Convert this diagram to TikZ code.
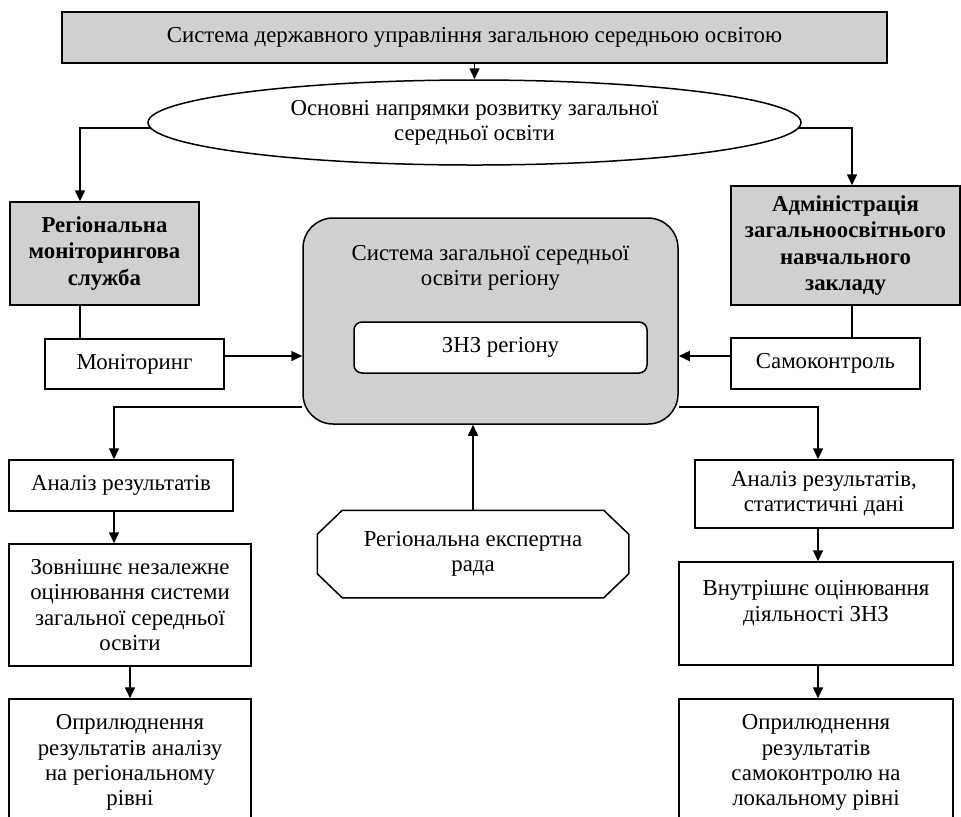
\documentclass[tikz,border=0pt]{standalone}
\usepackage{fontspec}
\setmainfont{Liberation Serif}
\usetikzlibrary{arrows.meta, calc, shapes.geometric}
\definecolor{boxgray}{RGB}{208,208,208}

\begin{document}
\begin{tikzpicture}[
      x=0.5pt, y=-0.5pt, % pixel grid, y downwards
      >={Triangle[length=5.5pt,width=5pt]},
      line width=0.75pt,
      font=\fontsize{11.4pt}{12.6pt}\selectfont,
      box/.style={draw, rectangle, align=center, inner sep=1pt},
      graybox/.style={box, fill=boxgray},
      boldbox/.style={graybox, font=\fontsize{11.4pt}{13.3pt}\selectfont\bfseries},
      oval/.style={draw, ellipse, align=center, inner sep=0pt},
      link/.style={->},
    ]
    \useasboundingbox (0,0) rectangle (961,816);

    % ---- top -------------------------------------------------------------
    \node[graybox, minimum width=412.5pt, minimum height=25.5pt] (gov) at (474.5,37.5)
      {Система державного управління загальною середньою освітою};
    \node[oval, minimum width=326.5pt, minimum height=42.5pt] (dirs) at (474.5,122.5)
      {Основні напрямки розвитку загальної\\середньої освіти};

    % ---- left and right heads ---------------------------------------------
    \node[boldbox, minimum width=94.5pt, minimum height=51.5pt] (monserv) at (104.5,253.5)
      {Регіональна\\моніторингова\\служба};
    \node[boldbox, minimum width=114.5pt, minimum height=59.5pt] (admin) at (845.5,245.5)
      {Адміністрація\\загальноосвітнього\\навчального\\закладу};
    \node[box, minimum width=89.5pt, minimum height=25pt] (monit) at (134.5,364) {Моніторинг};
    \node[box, minimum width=94.5pt, minimum height=25.5pt] (selfc) at (825.5,363.5) {Самоконтроль};

    % ---- centre ------------------------------------------------------------
    \node[graybox, rounded corners=15pt, minimum width=187.5pt, minimum height=103pt] (regsys) at (490.5,321) {};
    \node[align=center] (regtitle) at (490.5,268) {Система загальної середньої\\освіти регіону};
    \node[box, fill=white, rounded corners=4pt, minimum width=146.5pt, minimum height=25.5pt] (znz) at (500.5,347.5) {ЗНЗ регіону};

    \node[align=center, minimum width=155pt, minimum height=43pt] (rada) at (473,554)
      {Регіональна експертна\\рада};
    \draw ([xshift=12.5pt]rada.north west) -- ([xshift=-12.5pt]rada.north east)
      -- ([yshift=-12pt]rada.north east) -- ([yshift=12pt]rada.south east)
      -- ([xshift=-12.5pt]rada.south east) -- ([xshift=12.5pt]rada.south west)
      -- ([yshift=12pt]rada.south west) -- ([yshift=-12pt]rada.north west) -- cycle;

    % ---- left column -------------------------------------------------------
    \node[box, minimum width=112pt, minimum height=25.5pt] (anl) at (121,485.5) {Аналіз результатів};
    \node[box, minimum width=121pt, minimum height=61pt] (ext) at (130,605)
      {Зовнішнє незалежне\\оцінювання системи\\загальної середньої\\освіти};
    \node[box, minimum width=121pt, minimum height=63.5pt] (publ) at (130,762.5)
      {Оприлюднення\\результатів аналізу\\на регіональному\\рівні};

    % ---- right column ------------------------------------------------------
    \node[box, minimum width=129pt, minimum height=34pt] (anr) at (824,494)
      {Аналіз результатів,\\статистичні дані};
    \node[box, minimum width=137pt, minimum height=51.5pt] (intr) at (816,613.5)
      {Внутрішнє оцінювання\\діяльності ЗНЗ\\~};
    \node[box, minimum width=137pt, minimum height=63.5pt] (pubr) at (816,762.5)
      {Оприлюднення\\результатів\\самоконтролю на\\локальному рівні};

    % ---- links -------------------------------------------------------------
    \draw[link] (gov) -- (dirs);
    \draw[link] (dirs.181.7) -| ([xshift=-12.25pt]monserv.north);
    \draw[link] (dirs.-1.7) -| ([xshift=3.25pt]admin.north);
    \draw ([xshift=-12.25pt]monserv.south) -- ([xshift=-12.25pt]monserv.south |- monit.north);
    \draw ([xshift=3.25pt]admin.south) -- ([xshift=3.25pt]admin.south |- selfc.north);
    \draw[link] ([yshift=4pt]monit.east) -- ([yshift=4pt]monit.east -| regsys.west);
    \draw[link] ([yshift=3.75pt]selfc.west) -- ([yshift=3.75pt]selfc.west -| regsys.east);
    \draw[link] (rada.north) -- (rada.north |- regsys.south);
    \draw[link] ([yshift=-43pt]regsys.west) -| ([xshift=-3.5pt]anl.north);
    \draw[link] ([yshift=-43pt]regsys.east) -| ([xshift=-3pt]anr.north);
    \draw[link] ([xshift=-3.5pt]anl.south) -- ([xshift=-3.5pt]anl.south |- ext.north);
    \draw[link] (ext) -- (publ);
    \draw[link] ([xshift=-3pt]anr.south) -- ([xshift=-3pt]anr.south |- intr.north);
    \draw[link] ([xshift=1pt]intr.south) -- ([xshift=1pt]intr.south |- pubr.north);
  \end{tikzpicture}
\end{document}
